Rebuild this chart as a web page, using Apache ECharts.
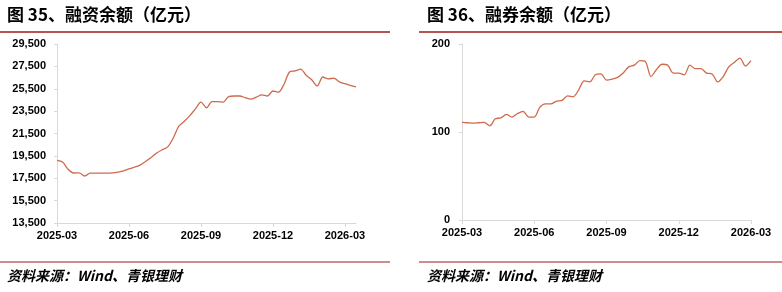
<!DOCTYPE html>
<html><head><meta charset="utf-8">
<script src="https://cdn.jsdelivr.net/npm/echarts@6/dist/echarts.min.js"></script>
<style>html,body{margin:0;padding:0;background:#fff}#c{width:782px;height:292px}</style>
</head><body><div id="c"></div>
<script>
// weekly dates (Mondays) from 2025-03-03
const startDate = '2025-03-03';
const marginValues = [19100,18950,18300,17970,17980,17700,17950,17950,17950,17950,17980,18050,18150,18330,18500,18680,19000,19350,19750,20050,20300,21100,22150,22600,23100,23700,24300,23800,24350,24350,24300,24800,24850,24850,24700,24580,24750,24950,24850,25300,25200,25900,27000,27090,27250,26700,26300,25750,26550,26380,26450,26120,25950,25800,25660];
const shortValues = [111,110.5,110,110.5,111,107,115,116,120,117,121,123.5,117,117,128,132,132,135,136,141,140,148,158,157,165,166,159,160,162,167,174,176,181,180,163,171,177,176,167,167,165,176,172,172,167,166,157,163,174,179,184,175,181];
const leftTitle = '图 35、融资余额（亿元）';
const rightTitle = '图 36、融券余额（亿元）';
const sourceText = '资料来源：Wind、青银理财';
const leftYTicks = {min:13500, max:29500, interval:2000};
const rightYTicks = {min:0, max:200, interval:100};
const quarterMonths = [3,6,9,12];

function buildDates(n){
  const out=[]; const d=new Date(startDate+'T00:00:00Z');
  for(let i=0;i<n;i++){ const t=new Date(d.getTime()+i*7*86400000); out.push(t.toISOString().slice(0,10)); }
  return out;
}
const leftDates = buildDates(marginValues.length);
const rightDates = buildDates(shortValues.length);
function isQuarterStart(s){ const m=+s.slice(5,7), day=+s.slice(8,10); return day<=7 && quarterMonths.indexOf(m)>=0; }

const chart = echarts.init(document.getElementById('c'));
const red = '#9E1A1A', lineColor = '#CF6A4C', axisGray = '#D9D9D9';
const labelFont = {color:'#000', fontWeight:'bold', fontSize:11, fontFamily:'Liberation Sans, Arial, sans-serif'};
function xAxis(idx, dates){
  return {type:'category', gridIndex:idx, data:dates, boundaryGap:false,
    axisLine:{lineStyle:{color:axisGray}},
    axisTick:{show:true, length:4, lineStyle:{color:axisGray}, interval:(i,v)=>isQuarterStart(v)},
    axisLabel:Object.assign({interval:(i,v)=>isQuarterStart(v), margin:7, formatter:v=>v.slice(0,7)}, labelFont),
    splitLine:{show:false}};
}
function yAxis(idx, t, fmt, margin){
  return {type:'value', gridIndex:idx, min:t.min, max:t.max, interval:t.interval,
    axisLine:{show:true, lineStyle:{color:axisGray}},
    axisTick:{show:true, length:3, lineStyle:{color:axisGray}},
    splitLine:{show:false},
    axisLabel:Object.assign({margin:margin, formatter:fmt}, labelFont)};
}
const titleStyle = {fontSize:17, fontWeight:'bold', color:'#000', fontFamily:'Noto Sans CJK SC, sans-serif'};
const srcStyle = {fontSize:14, fontWeight:'bold', fontStyle:'italic', color:'#000', fontFamily:'Noto Sans CJK SC, sans-serif'};
chart.setOption({
  animation:false,
  grid:[{left:57, top:44, width:299, height:179}, {left:462, top:44, width:289, height:176}],
  xAxis:[xAxis(0,leftDates), xAxis(1,rightDates)],
  yAxis:[yAxis(0,leftYTicks,v=>v.toLocaleString('en-US'),11), yAxis(1,rightYTicks,v=>String(v),12)],
  series:[
    {type:'line', xAxisIndex:0, yAxisIndex:0, data:marginValues, showSymbol:false, smooth:0.3, lineStyle:{color:lineColor, width:1.3}},
    {type:'line', xAxisIndex:1, yAxisIndex:1, data:shortValues, showSymbol:false, smooth:0.3, lineStyle:{color:lineColor, width:1.3}}
  ],
  graphic:[
    {type:'text', left:7, top:6, style:Object.assign({text:leftTitle}, titleStyle)},
    {type:'text', left:427, top:6, style:Object.assign({text:rightTitle}, titleStyle)},
    {type:'line', shape:{x1:0,y1:32,x2:390,y2:32}, style:{stroke:red, lineWidth:1.5}},
    {type:'line', shape:{x1:419,y1:32,x2:782,y2:32}, style:{stroke:red, lineWidth:1.5}},
    {type:'line', shape:{x1:0,y1:262,x2:390,y2:262}, style:{stroke:red, lineWidth:1.2}},
    {type:'line', shape:{x1:419,y1:262,x2:782,y2:262}, style:{stroke:red, lineWidth:1.2}},
    {type:'text', left:7, top:269, style:Object.assign({text:sourceText}, srcStyle)},
    {type:'text', left:427, top:269, style:Object.assign({text:sourceText}, srcStyle)}
  ]
});
</script></body></html>
